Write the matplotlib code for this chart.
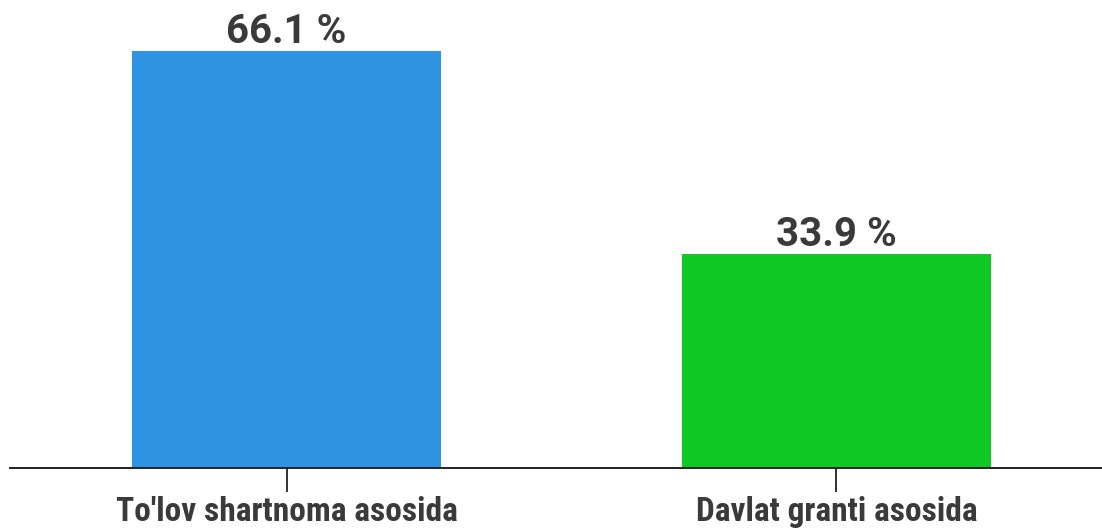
import matplotlib.pyplot as plt

# data
categories = ["To'lov shartnoma asosida", "Davlat granti asosida"]
shares = [66.1, 33.9]
bar_colors = ["#2E93E2", "#10C826"]

W, H = 1102, 528
fig = plt.figure(figsize=(W / 100, H / 100), dpi=100)
ax = fig.add_axes([10 / W, 60 / H, 1092 / W, 468 / H])

x = list(range(len(categories)))
ax.bar(x, shares, width=0.562, color=bar_colors)

ax.set_xlim(-0.503, 1.483)
ax.set_ylim(0, 74.2)

# value labels above bars
for xi, v in zip(x, shares):
    ax.annotate(f"{v} %", (xi, v), xytext=(0, 5.8), textcoords="offset points",
                ha="center", va="baseline", fontsize=29, fontweight="bold",
                color="#3a3a3a", family=["Roboto", "DejaVu Sans"])

ax.set_xticks(x)
ax.set_xticklabels(categories, fontsize=24, fontweight="bold", color="#3a3a3a",
                   family=["Roboto Condensed", "Liberation Sans Narrow",
                           "DejaVu Sans Condensed", "Roboto"])
ax.tick_params(axis="x", length=17, width=1.3, color="#222222", pad=3.5)
ax.set_yticks([])

for side in ["top", "left", "right"]:
    ax.spines[side].set_visible(False)
ax.spines["bottom"].set_color("#222222")
ax.spines["bottom"].set_linewidth(1.4)

fig.savefig("out.png", dpi=100)
